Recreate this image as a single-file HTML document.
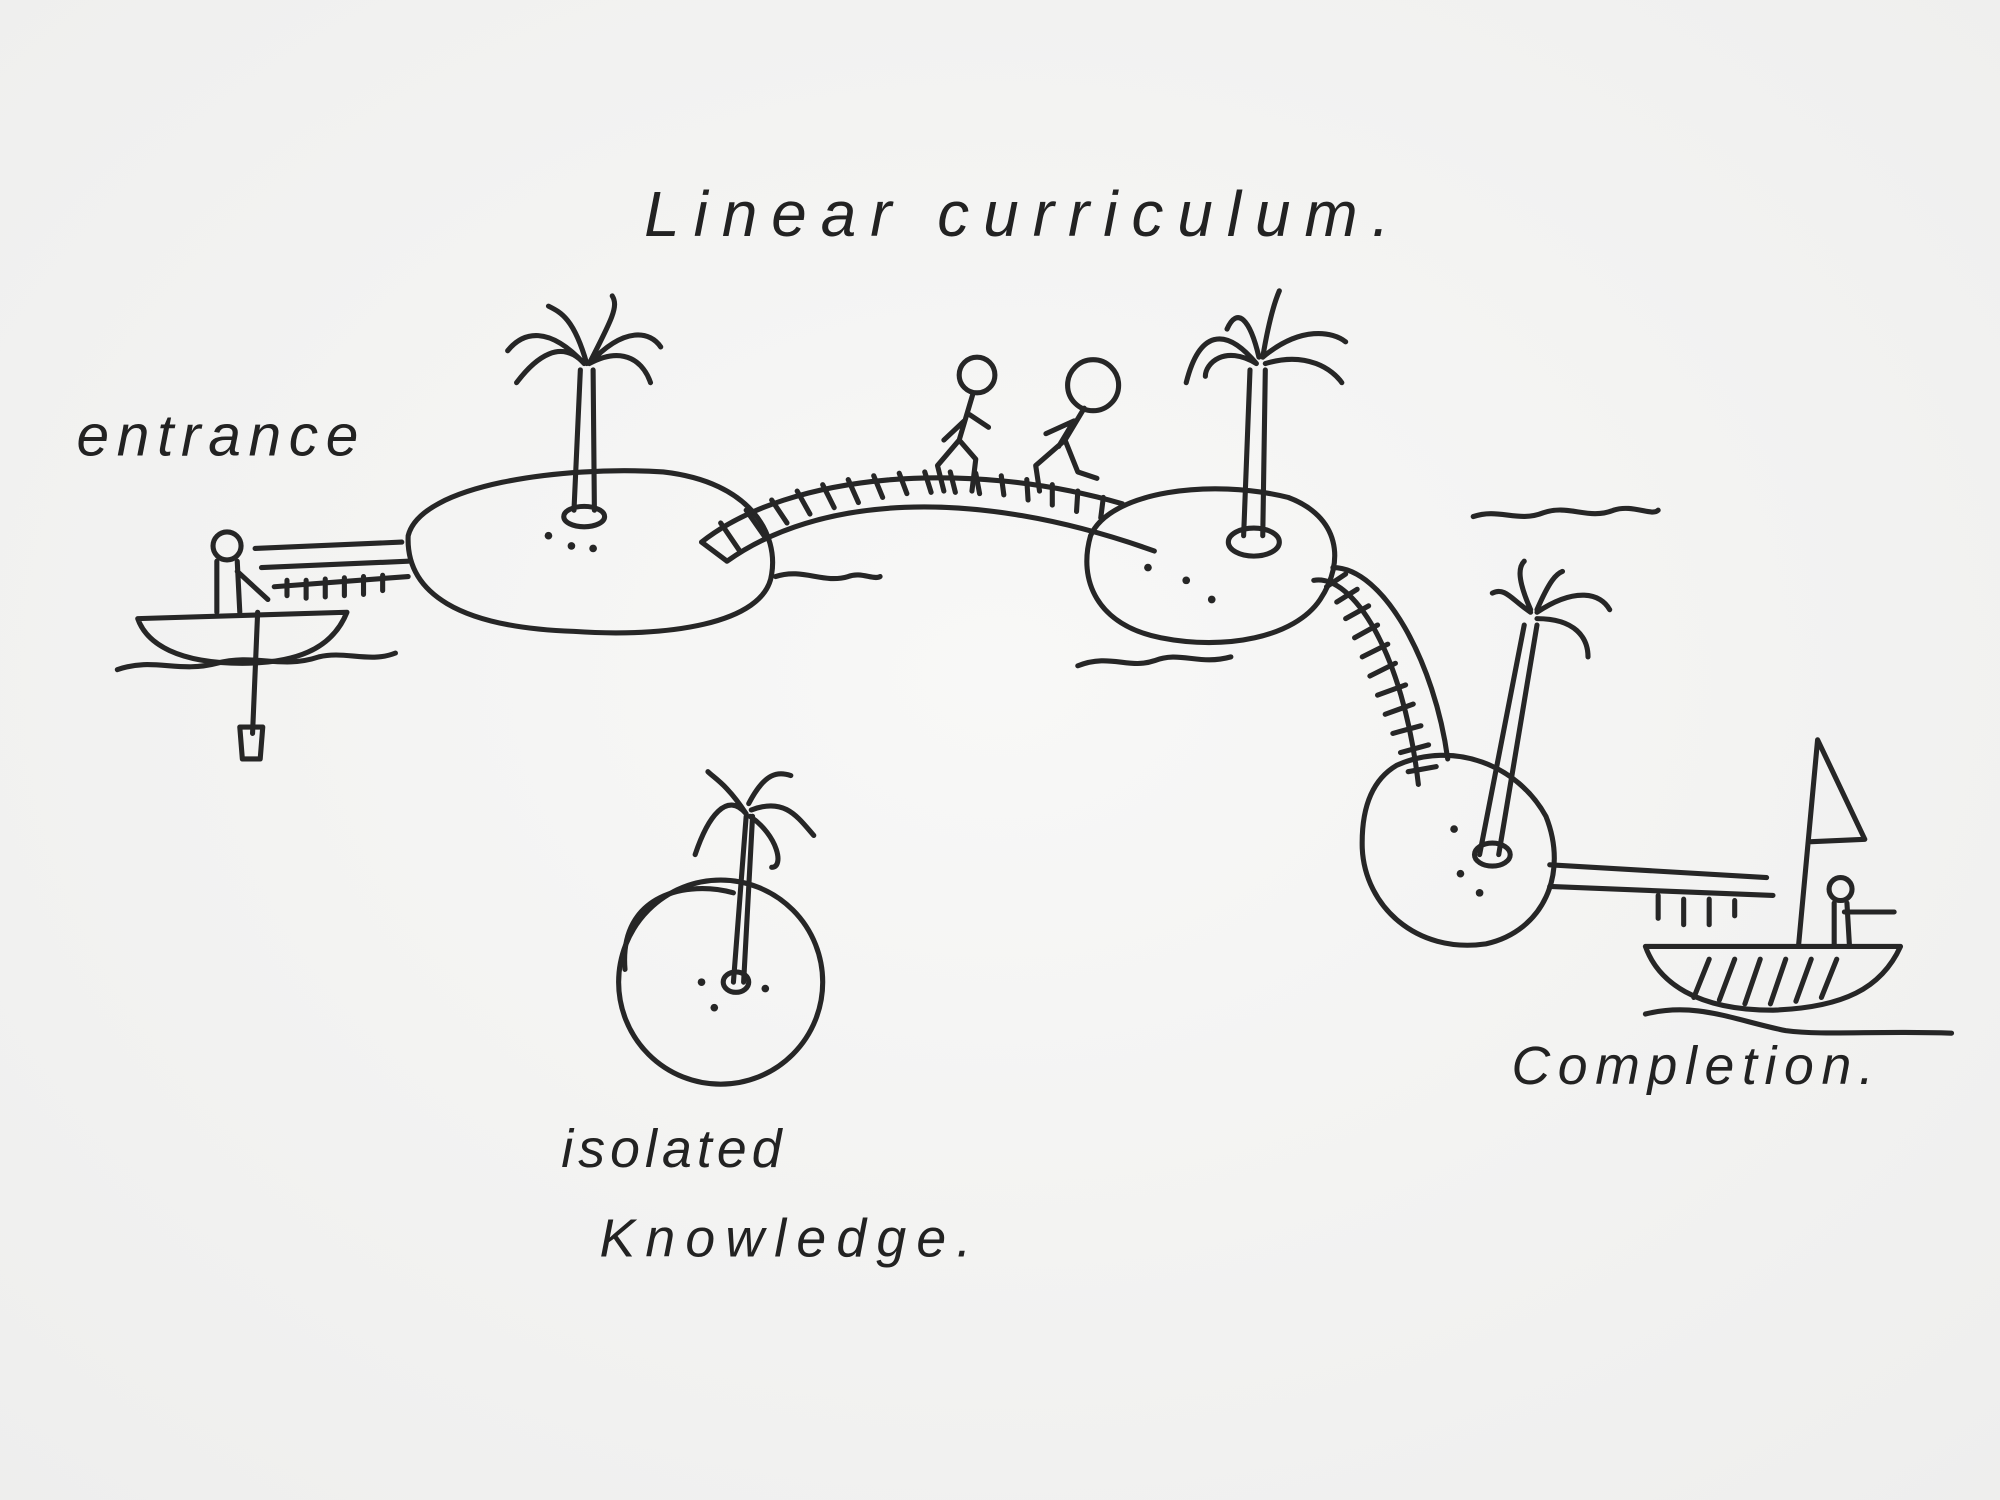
<!DOCTYPE html>
<html><head><meta charset="utf-8"><style>
html,body{margin:0;padding:0;background:#f6f6f5;}
svg{display:block;}
text{font-family:"Liberation Sans",sans-serif;fill:#222;}
</style></head><body>
<svg width="2000" height="1500" viewBox="0 0 1568 1176" xmlns="http://www.w3.org/2000/svg">
<defs>
<radialGradient id="bg" cx="50%" cy="45%" r="75%">
<stop offset="0" stop-color="#f8f8f7"/><stop offset="1" stop-color="#eeeeed"/>
</radialGradient>
</defs>
<rect width="1568" height="1176" fill="url(#bg)"/>
<g fill="none" stroke="#262626" stroke-width="4" stroke-linecap="round" stroke-linejoin="round">
<path d="M320 420 C330 380 440 365 520 370 C590 378 610 420 605 450 C600 490 520 500 450 495 C360 492 318 465 320 420Z"/>
<path d="M450 400 L455 290 M465 290 L466 400"/>
<ellipse cx="458" cy="405" rx="16" ry="8"/>
<path d="M458 285 C430 255 410 260 398 275 M458 285 C440 265 420 280 405 300 M460 285 C450 250 440 245 430 240 M462 285 C480 250 485 240 480 232 M462 285 C490 255 510 260 518 272 M462 285 C490 270 505 285 510 300"/>
<path d="M200 430 L315 425 M205 445 L320 440 M215 460 L320 452"/>
<path d="M225 455 v12 M240 455 v14 M255 454 v14 M270 453 v14 M285 452 v14 M300 451 v12"/>
<path d="M108 485 L272 480 C260 510 230 520 190 520 C140 520 115 505 108 485Z"/>
<circle cx="178" cy="428" r="11"/>
<path d="M170 440 L170 480 M186 440 L188 480 M186 448 L210 470"/>
<path d="M202 480 L198 575 M188 570 L206 570 L204 595 L190 595Z"/>
<path d="M92 525 C120 515 140 528 170 520 C200 512 220 525 250 515 C270 510 290 520 310 512"/>
<path d="M550 425 C620 370 760 360 880 395 M570 440 C640 390 760 380 905 432 M550 425 L570 440"/>
<path d="M565 410 l15 22 M585 400 l14 20 M605 392 l12 18 M625 385 l10 18 M645 380 l9 18 M665 376 l8 18 M685 373 l7 17 M705 371 l6 16 M725 370 l5 16 M745 370 l4 16 M765 371 l3 16 M785 373 l2 15 M805 376 l1 16 M825 380 l0 16 M845 385 l-1 16 M865 390 l-2 16"/>
<path d="M608 452 C630 445 645 458 665 452 C675 448 685 455 690 452"/>
<circle cx="766" cy="294" r="14"/>
<path d="M763 308 L752 345 M756 330 L740 345 M752 345 L735 365 M752 345 L765 360 L762 385 M735 365 L740 385 M760 325 L775 335"/>
<circle cx="857" cy="302" r="20"/>
<path d="M850 320 L835 345 M842 330 L820 340 M835 345 L812 365 M812 365 L815 385 M835 345 L845 370 L860 375 M842 330 L830 350"/>
<path d="M855 420 C870 385 950 375 1010 390 C1050 405 1055 440 1035 470 C1015 500 960 510 910 500 C860 490 845 455 855 420Z"/>
<path d="M975 420 L980 290 M992 290 L990 420"/>
<ellipse cx="983" cy="425" rx="20" ry="11"/>
<path d="M985 285 C960 255 940 260 930 300 M985 285 C960 270 945 285 945 295 M987 280 C980 250 970 240 962 258 M990 280 C995 250 1000 235 1003 228 M990 280 C1020 255 1045 260 1055 268 M992 285 C1025 275 1045 290 1052 300"/>
<path d="M1155 405 C1175 398 1190 410 1210 402 C1230 395 1245 408 1265 400 C1280 395 1295 405 1300 400"/>
<path d="M845 522 C870 512 885 525 905 518 C925 510 940 522 965 515"/>
<path d="M1030 455 C1060 450 1100 510 1112 615 M1045 445 C1085 445 1125 520 1135 595"/>
<path d="M1040 460 l15 -10 M1048 472 l16 -10 M1055 485 l18 -10 M1062 500 l18 -10 M1068 515 l20 -10 M1074 530 l20 -10 M1080 545 l22 -8 M1086 560 l22 -8 M1092 575 l22 -6 M1098 590 l22 -6 M1104 605 l22 -4"/>
<path d="M1095 600 C1140 580 1190 600 1212 640 C1230 685 1210 730 1165 740 C1110 748 1070 710 1068 665 C1067 630 1078 610 1095 600Z"/>
<path d="M1160 670 L1195 490 M1175 670 L1205 490"/>
<ellipse cx="1170" cy="670" rx="14" ry="9"/>
<path d="M1200 480 C1185 470 1180 460 1170 465 M1200 478 C1190 455 1190 445 1195 440 M1205 478 C1215 455 1220 450 1225 448 M1205 480 C1235 460 1255 465 1262 478 M1205 485 C1235 485 1245 500 1245 515"/>
<path d="M1215 678 L1385 688 M1215 695 L1390 702 M1300 702 v18 M1320 705 v20 M1340 705 v20 M1360 706 v12"/>
<path d="M1290 742 L1490 742 C1475 775 1445 790 1390 792 C1330 792 1300 770 1290 742Z"/>
<path d="M1340 752 l-12 30 M1360 752 l-12 32 M1380 752 l-12 35 M1400 752 l-12 35 M1420 752 l-12 33 M1440 752 l-12 30"/>
<path d="M1410 742 L1425 580 L1462 658 L1418 660"/>
<circle cx="1443" cy="697" r="9"/>
<path d="M1438 708 L1438 742 M1448 708 L1450 742 M1446 715 L1485 715"/>
<path d="M1290 795 C1330 785 1360 800 1400 808 C1430 812 1470 808 1530 810"/>
<circle cx="565" cy="770" r="80"/>
<path d="M490 760 C485 700 540 690 575 700"/>
<path d="M575 770 L585 640 M590 640 L583 770"/>
<ellipse cx="577" cy="770" rx="10" ry="8"/>
<path d="M585 638 C570 620 555 640 545 670 M585 638 C570 615 560 610 555 605 M587 630 C600 605 610 605 620 608 M589 635 C615 625 625 640 638 655 M588 640 C610 655 615 680 605 680"/>
</g>
<g fill="#262626">
<circle cx="430" cy="420" r="3"/><circle cx="448" cy="428" r="3"/><circle cx="465" cy="430" r="3"/><circle cx="900" cy="445" r="3"/><circle cx="930" cy="455" r="3"/><circle cx="950" cy="470" r="3"/><circle cx="1140" cy="650" r="3"/><circle cx="1145" cy="685" r="3"/><circle cx="1160" cy="700" r="3"/><circle cx="550" cy="770" r="3"/><circle cx="560" cy="790" r="3"/><circle cx="600" cy="775" r="3"/>
</g>
<text x="505" y="185" font-size="50" font-style="italic" letter-spacing="11">Linear curriculum.</text>
<text x="60" y="357" font-size="46" font-style="italic" letter-spacing="6">entrance</text>
<text x="440" y="915" font-size="42" font-style="italic" letter-spacing="4">isolated</text>
<text x="470" y="985" font-size="42" font-style="italic" letter-spacing="8">Knowledge.</text>
<text x="1185" y="850" font-size="42" font-style="italic" letter-spacing="6">Completion.</text>
</svg>
</body></html>
